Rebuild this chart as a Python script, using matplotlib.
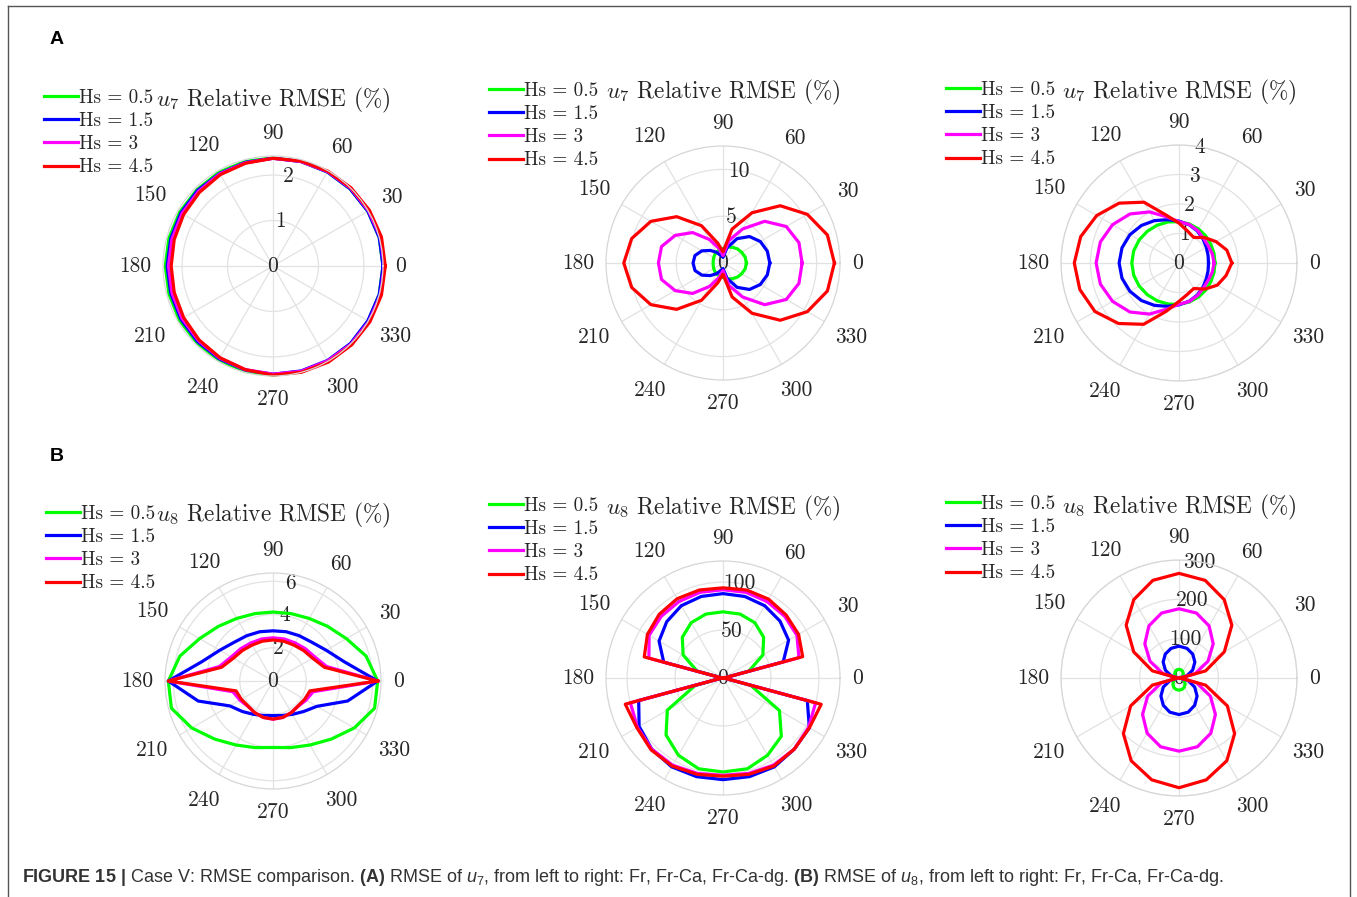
import numpy as np
import matplotlib
matplotlib.use("Agg")
import matplotlib.pyplot as plt
import matplotlib.font_manager as fm
from matplotlib.lines import Line2D

# angles of the 24 samples (deg), 15 deg step
theta_deg = [0, 15, 30, 45, 60, 75, 90, 105, 120, 135, 150, 165,
             180, 195, 210, 225, 240, 255, 270, 285, 300, 315, 330, 345]
angle_ticks = [0, 30, 60, 90, 120, 150, 180, 210, 240, 270, 300, 330]
hs_labels = ["Hs = 0.5", "Hs = 1.5", "Hs = 3", "Hs = 4.5"]
line_colors = ["#00ff00", "#0000ff", "#ff00ff", "#ff0000"]

# (A) u7, Fr
a1_hs05 = [2.42, 2.42, 2.41, 2.40, 2.39, 2.38, 2.38, 2.38, 2.38, 2.37, 2.37, 2.37,
           2.37, 2.37, 2.38, 2.38, 2.39, 2.40, 2.40, 2.41, 2.41, 2.42, 2.42, 2.42]
a1_hs15 = [2.42, 2.42, 2.41, 2.40, 2.39, 2.38, 2.37, 2.36, 2.35, 2.35, 2.34, 2.33,
           2.33, 2.33, 2.34, 2.35, 2.36, 2.37, 2.38, 2.39, 2.40, 2.41, 2.41, 2.42]
a1_hs3 = [2.45, 2.45, 2.43, 2.42, 2.40, 2.38, 2.37, 2.35, 2.34, 2.32, 2.31, 2.30,
          2.30, 2.30, 2.31, 2.32, 2.34, 2.36, 2.38, 2.40, 2.41, 2.43, 2.44, 2.45]
a1_hs45 = [2.47, 2.47, 2.45, 2.43, 2.41, 2.39, 2.37, 2.34, 2.32, 2.29, 2.27, 2.25,
           2.24, 2.25, 2.27, 2.30, 2.33, 2.36, 2.40, 2.42, 2.44, 2.45, 2.46, 2.47]

# (A) u7, Fr-Ca
a2_hs05 = [2.50, 2.45, 2.30, 2.15, 1.95, 1.75, 1.55, 1.45, 1.35, 1.25, 1.15, 1.08,
           1.05, 1.08, 1.15, 1.25, 1.35, 1.45, 1.55, 1.75, 1.95, 2.15, 2.30, 2.45]
a2_hs15 = [5.0, 4.9, 4.6, 4.0, 3.0, 1.7, 0.6, 0.8, 1.3, 1.9, 2.6, 3.1,
           3.2, 3.1, 2.6, 1.9, 1.3, 0.8, 0.6, 1.7, 3.0, 4.0, 4.6, 4.9]
a2_hs3 = [8.45, 8.4, 7.8, 6.3, 4.2, 2.5, 0.8, 1.6, 2.9, 4.6, 5.9, 6.8,
          6.9, 6.8, 5.9, 4.6, 2.9, 1.6, 0.8, 2.5, 4.2, 6.3, 7.8, 8.4]
a2_hs45 = [11.9, 11.55, 10.4, 8.65, 6.2, 3.75, 1.2, 2.2, 4.6, 7.0, 8.9, 10.1,
           10.6, 10.1, 8.9, 7.0, 4.6, 2.2, 1.2, 3.75, 6.2, 8.65, 10.4, 11.55]

# (A) u7, Fr-Ca-dg
a3_hs05 = [1.22, 1.23, 1.25, 1.29, 1.33, 1.37, 1.40, 1.44, 1.48, 1.52, 1.56, 1.59,
           1.60, 1.59, 1.56, 1.52, 1.48, 1.44, 1.40, 1.37, 1.33, 1.29, 1.25, 1.23]
a3_hs15 = [1.00, 1.02, 1.07, 1.15, 1.25, 1.34, 1.42, 1.52, 1.66, 1.80, 1.92, 2.00,
           2.03, 2.00, 1.92, 1.80, 1.66, 1.52, 1.42, 1.34, 1.25, 1.15, 1.07, 1.02]
a3_hs3 = [1.19, 1.17, 1.15, 1.18, 1.27, 1.35, 1.40, 1.62, 2.00, 2.35, 2.60, 2.76,
          2.81, 2.76, 2.60, 2.35, 2.00, 1.62, 1.40, 1.35, 1.27, 1.18, 1.15, 1.17]
a3_hs45 = [1.79, 1.68, 1.45, 1.22, 1.00, 1.12, 1.35, 1.68, 2.38, 2.87, 3.22, 3.45,
           3.55, 3.48, 3.29, 2.90, 2.40, 1.70, 1.30, 1.10, 1.00, 1.25, 1.50, 1.65]

# (B) u8, Fr
b1_hs05 = [6.30, 5.80, 5.10, 4.65, 4.35, 4.20, 4.15, 4.20, 4.35, 4.65, 5.10, 5.80,
           6.30, 6.33, 5.65, 4.95, 4.45, 4.15, 4.00, 4.15, 4.45, 4.95, 5.65, 6.33]
b1_hs15 = [6.30, 4.45, 3.70, 3.30, 3.15, 3.07, 3.02, 3.07, 3.15, 3.30, 3.70, 4.45,
           6.30, 4.66, 3.00, 2.60, 2.32, 2.15, 2.08, 2.15, 2.32, 2.60, 3.05, 4.65]
b1_hs3 = [6.30, 3.35, 2.90, 2.75, 2.65, 2.62, 2.60, 2.62, 2.65, 2.75, 2.90, 3.35,
          6.30, 2.50, 2.30, 2.15, 2.20, 2.27, 2.30, 2.27, 2.20, 2.15, 2.30, 2.50]
b1_hs45 = [6.30, 3.20, 2.75, 2.60, 2.50, 2.48, 2.47, 2.48, 2.50, 2.60, 2.75, 3.20,
           6.30, 2.30, 2.20, 2.13, 2.20, 2.27, 2.29, 2.27, 2.20, 2.13, 2.20, 2.30]

# (B) u8, Fr-Ca
b2_hs05 = [1, 28, 48, 60, 66.5, 69, 69, 69, 66.5, 60, 48, 28,
           1, 30, 67, 84, 93, 98, 98, 98, 93, 86, 68, 30]
b2_hs15 = [1, 65, 79, 84, 87, 88, 88, 88, 87, 83, 77, 64,
           1, 91, 101, 105, 107, 106.5, 106, 106.5, 107, 105, 104, 91]
b2_hs3 = [1, 82, 89, 91, 92, 92.5, 92, 92.5, 92, 91, 89, 80,
          1, 100, 103, 105, 105, 103, 101.5, 103, 105, 105, 103, 100]
b2_hs45 = [1, 86, 91, 93, 95, 95, 94, 95, 95.5, 94, 91, 85,
           1, 105.5, 103.7, 106, 106, 104, 102.4, 104, 106, 105, 104, 106]

# (B) u8, Fr-Ca-dg
b3_hs05 = [1, 6, 11, 15.5, 19, 21.5, 22, 21.5, 19, 15.5, 11, 6,
           1, 8, 15.5, 22, 27, 30, 31, 30, 27, 22, 15.5, 8]
b3_hs15 = [1, 21, 40, 57, 70, 78, 81, 78, 70, 57, 40, 21,
           1, 24, 46, 65, 80, 90, 93, 90, 80, 65, 46, 24]
b3_hs3 = [2, 42, 85, 123, 153, 171, 176, 171, 153, 123, 85, 42,
          2, 46, 92, 131, 162, 181, 186, 181, 162, 131, 92, 46]
b3_hs45 = [3, 70, 133, 190, 230, 257, 266, 257, 230, 190, 133, 70,
           3, 70, 142, 200, 243, 268, 279, 268, 243, 200, 142, 70]

panels = [
    ("u_7", [a1_hs05, a1_hs15, a1_hs3, a1_hs45], [0, 1, 2], 2.42),
    ("u_7", [a2_hs05, a2_hs15, a2_hs3, a2_hs45], [0, 5, 10], 12.5),
    ("u_7", [a3_hs05, a3_hs15, a3_hs3, a3_hs45], [0, 1, 2, 3, 4], 4),
    ("u_8", [b1_hs05, b1_hs15, b1_hs3, b1_hs45], [0, 2, 4, 6], 6.5),
    ("u_8", [b2_hs05, b2_hs15, b2_hs3, b2_hs45], [0, 50, 100], 122),
    ("u_8", [b3_hs05, b3_hs15, b3_hs3, b3_hs45], [0, 100, 200, 300], 300),
]

# layout in pixels: polar centre x, y, radius, title y, legend left, legend top
layout = [
    (273, 266, 110, 100, 44, 89),
    (723, 263, 117, 92, 489, 82),
    (1179, 263, 118, 92, 946, 81),
    (273, 681, 108, 515, 46, 505),
    (723, 678, 117, 508, 489, 497),
    (1179, 678, 118, 507, 946, 495),
]

names = {f.name for f in fm.fontManager.ttflist}
cap_font = "Liberation Sans Narrow" if "Liberation Sans Narrow" in names else "Liberation Sans"

plt.rcParams["font.family"] = "cmr10"
plt.rcParams["axes.formatter.use_mathtext"] = True
plt.rcParams["mathtext.fontset"] = "cm"
plt.rcParams["mathtext.rm"] = cap_font
plt.rcParams["mathtext.it"] = cap_font + ":italic"
plt.rcParams["mathtext.bf"] = cap_font + ":bold"

W, H = 1357, 897
fig = plt.figure(figsize=(W / 100, H / 100), dpi=100)
txt_col = "#262626"
grid_col = "#e2e2e2"
tick_fs = 15.5
em = tick_fs * 100 / 72

theta = np.deg2rad(theta_deg + [theta_deg[0]])

for (var, series, rticks, rmax), (cx, cy, R, ty, lx, ly) in zip(panels, layout):
    ax = fig.add_axes([(cx - R) / W, (H - cy - R) / H, 2 * R / W, 2 * R / H],
                      projection="polar")
    handles = []
    for vals, col in zip(series, line_colors):
        ln, = ax.plot(theta, vals + [vals[0]], color=col, lw=2.3, clip_on=False)
        handles.append(ln)
    ax.set_ylim(0, rmax)
    ax.set_thetagrids(angle_ticks, labels=[""] * len(angle_ticks))
    ax.set_rgrids(rticks, labels=[str(t) for t in rticks])
    ax.set_rlabel_position(80)
    ax.tick_params(axis="y", labelsize=tick_fs, colors=txt_col)
    ax.grid(True, color=grid_col, lw=0.9)
    ax.spines["polar"].set_color("#d6d6d6")
    ax.spines["polar"].set_linewidth(0.9)
    for lab in ax.get_yticklabels():
        lab.set_ha("center")
        lab.set_va("center")

    # angle labels outside the circle, centred like MATLAB does
    for a in angle_ticks:
        s = str(a)
        half_w = 0.5 * em * len(s) / 2
        off = 12 + abs(np.cos(np.deg2rad(a))) * half_w + abs(np.sin(np.deg2rad(a))) * 11
        ax.text(np.deg2rad(a), rmax * (1 + off / R), s, ha="center", va="center",
                fontsize=tick_fs, color=txt_col, clip_on=False)

    fig.text(cx / W, 1 - ty / H, "$%s$ Relative RMSE (%%)" % var, ha="center", va="center",
             fontsize=16.8, color=txt_col, math_fontfamily="cm")
    ax.legend(handles, hs_labels, loc="upper left", bbox_to_anchor=(lx / W, 1 - ly / H),
              bbox_transform=fig.transFigure, frameon=False, fontsize=13.8,
              handlelength=1.75, handletextpad=0.1, labelspacing=0.27,
              borderpad=0, borderaxespad=0, labelcolor=txt_col)

# panel letters
for letter, y in [("A", 40), ("B", 456)]:
    fig.text(57 / W, 1 - y / H, letter, fontsize=14, fontweight="bold",
             family="Liberation Sans", ha="center", va="center")

# caption
caption = (r"$\mathbf{FIGURE\ 15\ |}$ Case V: RMSE comparison. $\mathbf{(A)}$ RMSE of $u_7$, "
           r"from left to right: Fr, Fr-Ca, Fr-Ca-dg. $\mathbf{(B)}$ RMSE of $u_8$, "
           r"from left to right: Fr, Fr-Ca, Fr-Ca-dg.")
fig.text(22 / W, 1 - 877 / H, caption, family=cap_font, fontsize=13, color="#333333",
         ha="left", va="center", math_fontfamily="custom")

# frame around the figure
fx0, fy0, fx1 = 8 / W, 1 - 6 / H, 1350 / W
for xs, ys in [([fx0, fx0], [0, fy0]), ([fx0, fx1], [fy0, fy0]), ([fx1, fx1], [fy0, 0])]:
    fig.add_artist(Line2D(xs, ys, transform=fig.transFigure, color="#555555", lw=1.0))

fig.savefig("out.png", dpi=100)
